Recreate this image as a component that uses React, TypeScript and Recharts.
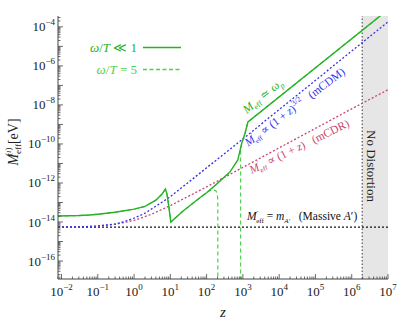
import React from 'react';
import { LineChart, Line, XAxis, YAxis, ReferenceLine, ReferenceArea } from 'recharts';

// ---- data ----
const zGreenSolid = [0.008, 0.03, 0.06, 0.1, 0.3, 1, 2, 4, 6, 7.3, 8, 9, 10.3, 22, 65, 100, 178, 437, 724, 933, 1150, 1380, 1e7];
const mGreenSolid = [2.04e-14, 2.14e-14, 2.29e-14, 2.51e-14, 3.16e-14, 4.57e-14, 6.31e-14, 1.32e-13, 2.82e-13, 4.9e-13, 2.9e-13, 7.1e-14, 1.0e-14, 3.55e-14, 1.74e-13, 3.16e-13, 8.0e-13, 3.63e-12, 1.51e-11, 1.12e-10, 3.63e-10, 1.35e-9, 7.6e-4];

const zGreenDashed = [0.008, 0.03, 0.06, 0.1, 0.3, 1, 2, 4, 6, 7.3, 8, 9, 10.3, 22, 65, 100, 120, 150, 180, 197, 203, 204, 863, 863, 933, 1150, 1380, 1e7];
const mGreenDashed = [2.04e-14, 2.14e-14, 2.29e-14, 2.51e-14, 3.16e-14, 4.57e-14, 6.31e-14, 1.32e-13, 2.82e-13, 4.9e-13, 2.9e-13, 7.1e-14, 1.0e-14, 3.55e-14, 1.74e-13, 3.16e-13, 4.0e-13, 4.5e-13, 4.0e-13, 2.8e-13, 1.3e-13, 1e-18, 1e-18, 5.0e-11, 1.12e-10, 3.63e-10, 1.35e-9, 7.6e-4];

const zCDM = [0.008, 0.05, 0.1, 0.3, 0.5, 1, 2, 5, 10, 30, 100, 1000, 1e4, 1e5, 1e6, 1e7];
const mCDM = [5.5e-15, 5.75e-15, 6.3e-15, 7.9e-15, 1.0e-14, 1.58e-14, 2.82e-14, 8.5e-14, 2.0e-13, 1.0e-12, 6.0e-12, 1.82e-10, 5.75e-9, 1.82e-7, 5.75e-6, 1.82e-4];

const zCDR = [0.008, 0.1, 0.3, 1, 3, 10, 100, 1000, 1e4, 1e5, 1e6, 1e7];
const mCDR = [5.5e-15, 6.0e-15, 7.6e-15, 1.2e-14, 2.5e-14, 6.9e-14, 6.3e-13, 6.3e-12, 6.3e-11, 6.3e-10, 6.3e-9, 6.0e-8];

const massiveAprime = 5.5e-15;
const noDistortionStart = 1.94e6;
const noDistortionEnd = 1e7;

const xDomain: [number, number] = [0.008, 1e7];
const yDomain: [number, number] = [1.2e-17, 3.6e-4];
const xMajorExps = [-3, -2, -1, 0, 1, 2, 3, 4, 5, 6, 7];
const xLabelExps = [-2, -1, 0, 1, 2, 3, 4, 5, 6, 7];
const yMajorExps = [-17, -16, -15, -14, -13, -12, -11, -10, -9, -8, -7, -6, -5, -4];
const yLabelExps = [-16, -14, -12, -10, -8, -6, -4];

// ---- styles ----
const serif = "Liberation Serif, DejaVu Serif, serif";
const axisColor = '#444';
const greenSolid = '#27b127';
const greenDashed = '#4fd04f';
const blue = '#3333ee';
const red = '#c84570';

const toPts = (zs: number[], ms: number[]) => zs.map((z, i) => ({ z, m: ms[i] }));

const buildTicks = (exps: number[], lo: number, hi: number) => {
  const out: number[] = [];
  exps.forEach((e) => {
    for (let k = 1; k <= 9; k++) {
      const v = k * Math.pow(10, e);
      if (v >= lo * 0.9999 && v <= hi * 1.0001) out.push(v);
    }
  });
  return out;
};
const xTicks = buildTicks(xMajorExps, xDomain[0], xDomain[1]);
const yTicks = buildTicks(yMajorExps, yDomain[0], yDomain[1]);

const isMajor = (v: number) => {
  const l = Math.log10(v);
  return Math.abs(l - Math.round(l)) < 1e-6;
};
const fmtExp = (e: number) => (e < 0 ? '\u2212' + Math.abs(e) : String(e));

function BottomTick(props: any) {
  const { x, y, payload } = props;
  const v = payload.value;
  const major = isMajor(v);
  const e = Math.round(Math.log10(v));
  return (
    <g>
      <line x1={x} x2={x} y1={y} y2={y - (major ? 5 : 2.5)} stroke={axisColor} strokeWidth={0.8} />
      {major && xLabelExps.includes(e) && (
        <text x={x} y={y + 17} textAnchor="middle" style={{ fontFamily: serif }} fontSize={13} fill="#222">
          10<tspan dy={-6} fontSize={9}>{fmtExp(e)}</tspan>
        </text>
      )}
    </g>
  );
}
function TopTick(props: any) {
  const { x, y, payload } = props;
  const major = isMajor(payload.value);
  return <line x1={x} x2={x} y1={y} y2={y + (major ? 5 : 2.5)} stroke={axisColor} strokeWidth={0.8} />;
}
function LeftTick(props: any) {
  const { x, y, payload } = props;
  const v = payload.value;
  const major = isMajor(v);
  const e = Math.round(Math.log10(v));
  return (
    <g>
      <line x1={x} x2={x + (major ? 5 : 2.5)} y1={y} y2={y} stroke={axisColor} strokeWidth={0.8} />
      {major && yLabelExps.includes(e) && (
        <text x={x - 3} y={y + 4.5} textAnchor="end" style={{ fontFamily: serif }} fontSize={13} fill="#222">
          10<tspan dy={-6} fontSize={9}>{fmtExp(e)}</tspan>
        </text>
      )}
    </g>
  );
}
function RightTick(props: any) {
  const { x, y, payload } = props;
  const major = isMajor(payload.value);
  return <line x1={x} x2={x - (major ? 5 : 2.5)} y1={y} y2={y} stroke={axisColor} strokeWidth={0.8} />;
}

export default function App() {
  return (
    <div style={{ position: 'absolute', left: 0, top: 0, width: 398, height: 323, background: '#fff' }}>
      <LineChart width={398} height={323} margin={{ top: 16, right: 10, bottom: 14, left: 8 }}>
        <XAxis
          xAxisId="b" dataKey="z" type="number" scale="log" domain={xDomain} allowDataOverflow
          ticks={xTicks} interval={0} tickSize={0} tickMargin={0} tickLine={false}
          tick={<BottomTick />} height={30} axisLine={{ stroke: axisColor }}
        />
        <XAxis
          xAxisId="t" orientation="top" dataKey="z" type="number" scale="log" domain={xDomain} allowDataOverflow
          ticks={xTicks} interval={0} tickSize={0} tickMargin={0} tickLine={false}
          tick={<TopTick />} height={0} axisLine={{ stroke: axisColor }}
        />
        <YAxis
          yAxisId="l" dataKey="m" type="number" scale="log" domain={yDomain} allowDataOverflow
          ticks={yTicks} interval={0} tickSize={0} tickMargin={0} tickLine={false}
          tick={<LeftTick />} width={50} axisLine={{ stroke: axisColor }}
        />
        <YAxis
          yAxisId="r" orientation="right" dataKey="m" type="number" scale="log" domain={yDomain} allowDataOverflow
          ticks={yTicks} interval={0} tickSize={0} tickMargin={0} tickLine={false}
          tick={<RightTick />} width={0} axisLine={{ stroke: axisColor }}
        />
        <ReferenceArea xAxisId="b" yAxisId="l" x1={noDistortionStart} x2={noDistortionEnd} y1={yDomain[0]} y2={yDomain[1]} fill="#e6e6e6" fillOpacity={1} stroke="none" ifOverflow="hidden" />
        <ReferenceLine xAxisId="b" yAxisId="l" x={noDistortionStart} stroke="#333" strokeDasharray="1.5 2" strokeWidth={1} />
        <ReferenceLine xAxisId="b" yAxisId="l" y={massiveAprime} stroke="#111" strokeDasharray="2 2" strokeWidth={1.2} />
        <Line xAxisId="b" yAxisId="l" data={toPts(zCDR, mCDR)} dataKey="m" type="linear" stroke={red} strokeWidth={1.3} strokeDasharray="2 2" dot={false} isAnimationActive={false} />
        <Line xAxisId="b" yAxisId="l" data={toPts(zCDM, mCDM)} dataKey="m" type="linear" stroke={blue} strokeWidth={1.3} strokeDasharray="2 2" dot={false} isAnimationActive={false} />
        <Line xAxisId="b" yAxisId="l" data={toPts(zGreenDashed, mGreenDashed)} dataKey="m" type="linear" stroke={greenDashed} strokeWidth={1.2} strokeDasharray="4 3" dot={false} isAnimationActive={false} />
        <Line xAxisId="b" yAxisId="l" data={toPts(zGreenSolid, mGreenSolid)} dataKey="m" type="linear" stroke={greenSolid} strokeWidth={1.4} dot={false} isAnimationActive={false} />
      </LineChart>
      <svg width={398} height={323} style={{ position: 'absolute', left: 0, top: 0, pointerEvents: 'none', fontFamily: serif }}>
        {/* legend */}
        <text x={137} y={52} textAnchor="end" fontSize={13} fill={greenSolid}>
          <tspan fontStyle="italic">ω</tspan>/<tspan fontStyle="italic">T</tspan> ≪ 1
        </text>
        <line x1={143} x2={181} y1={47.5} y2={47.5} stroke={greenSolid} strokeWidth={1.4} />
        <text x={137} y={73.5} textAnchor="end" fontSize={13} fill={greenDashed}>
          <tspan fontStyle="italic">ω</tspan>/<tspan fontStyle="italic">T</tspan> = 5
        </text>
        <line x1={143} x2={181} y1={69.5} y2={69.5} stroke={greenDashed} strokeWidth={1.3} strokeDasharray="4 2.5" />

        {/* annotations */}
        <text transform="translate(265,99) rotate(-39)" textAnchor="middle" fontSize={12} fill={greenSolid}>
          <tspan fontStyle="italic">M</tspan><tspan fontSize={8} dy={3}>eff</tspan><tspan dy={-3}> ≃ </tspan><tspan fontStyle="italic">ω</tspan><tspan fontStyle="italic" fontSize={8} dy={3}>p</tspan>
        </text>
        <text transform="translate(297,110) rotate(-37)" textAnchor="middle" fontSize={11.5} fill={blue}>
          <tspan fontStyle="italic">M</tspan><tspan fontSize={7} dy={-5}>′</tspan><tspan fontSize={7} dx={-2} dy={8}>eff</tspan><tspan dy={-3}> ∝ (1 + </tspan><tspan fontStyle="italic">z</tspan>)<tspan fontSize={8} dy={-5}>3/2</tspan><tspan dy={5}>{'\u00a0\u00a0\u00a0(mCDM)'}</tspan>
        </text>
        <text transform="translate(301,150) rotate(-26)" textAnchor="middle" fontSize={11.5} fill={red}>
          <tspan fontStyle="italic">M</tspan><tspan fontSize={7} dy={-5}>′</tspan><tspan fontSize={7} dx={-2} dy={8}>eff</tspan><tspan dy={-3}> ∝ (1 + </tspan><tspan fontStyle="italic">z</tspan>)<tspan>{'\u00a0\u00a0\u00a0(mCDR)'}</tspan>
        </text>
        <text x={247} y={220} fontSize={11.5} fill="#111">
          <tspan fontStyle="italic">M</tspan><tspan fontSize={7} dy={-5}>′</tspan><tspan fontSize={7} dx={-2} dy={8}>eff</tspan><tspan dy={-3}> = </tspan><tspan fontStyle="italic">m</tspan><tspan fontStyle="italic" fontSize={7} dy={3}>A′</tspan><tspan dy={-3}>{'\u00a0\u00a0\u00a0(Massive '}</tspan><tspan fontStyle="italic">A</tspan>′)
        </text>
        <text transform="translate(366.5,166) rotate(90)" textAnchor="middle" fontSize={13} fill="#222">No Distortion</text>

        {/* axis titles */}
        <text transform="translate(18,142) rotate(-90)" textAnchor="middle" fontSize={14} fill="#222">
          <tspan fontStyle="italic">M</tspan><tspan fontSize={9} dy={3}>eff</tspan><tspan fontSize={9} dx={-12} dy={-10}>(<tspan fontStyle="italic">ı</tspan>)</tspan><tspan dy={7}> [eV]</tspan>
        </text>
        <text x={223} y={317} textAnchor="middle" fontSize={15} fontStyle="italic" fill="#222">z</text>
      </svg>
    </div>
  );
}
